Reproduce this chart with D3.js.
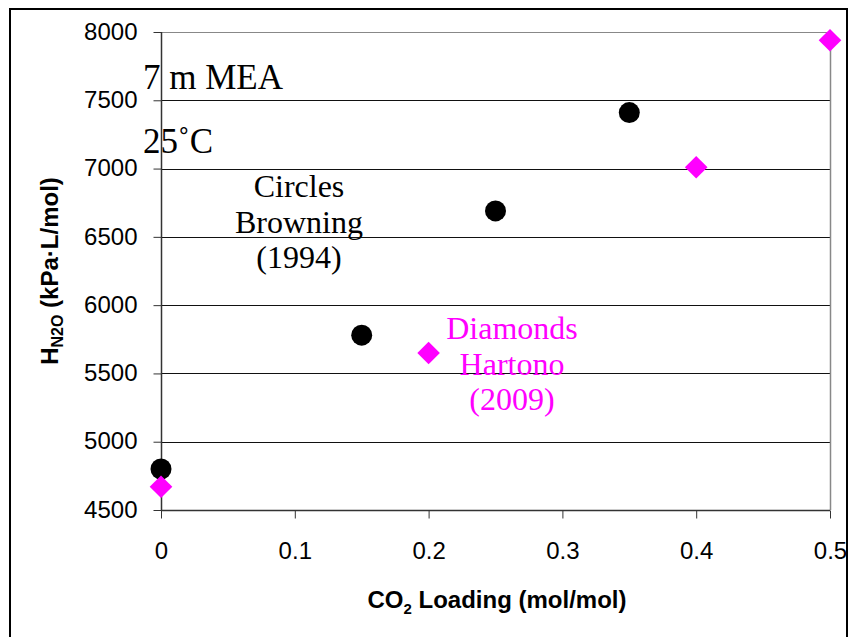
<!DOCTYPE html>
<html>
<head>
<meta charset="utf-8">
<title>N2O solubility in 7 m MEA</title>
<style>
  body { margin: 0; background: #fff; }
  .tick text { font-family: Arial, "Liberation Sans", sans-serif; font-size: 24px; fill: #000; }
  .note { font-family: "Times New Roman", "Liberation Serif", serif; font-size: 32px; }
  .big { font-size: 35px; }
</style>
</head>
<body>
<svg id="chart" width="849" height="637"></svg>
<script src="https://d3js.org/d3.v7.min.js"></script>
<script>
  // Browning (1994) - circles
  const browningLoading = [0, 0.15, 0.25, 0.35];
  const browningH = [4800, 5780, 6690, 7410];
  // Hartono (2009) - diamonds
  const hartonoLoading = [0, 0.2, 0.4, 0.5];
  const hartonoH = [4670, 5650, 7010, 7940];

  const xTicks = [0, 0.1, 0.2, 0.3, 0.4, 0.5];
  const yTicks = [4500, 5000, 5500, 6000, 6500, 7000, 7500, 8000];

  const svg = d3.select("#chart");
  const plot = { left: 161, right: 830, top: 32, bottom: 510 };

  const x = d3.scaleLinear().domain([0, 0.5]).range([plot.left, plot.right]);
  const y = d3.scaleLinear().domain([4500, 8000]).range([plot.bottom, plot.top]);

  // outer frame (bottom edge is off the picture)
  svg.append("path")
    .attr("d", "M10,640 V9 H847 V640")
    .attr("fill", "none")
    .attr("stroke", "#000")
    .attr("stroke-width", 2);

  // gridlines
  svg.append("g")
    .selectAll("line")
    .data(yTicks.slice(1))
    .join("line")
    .attr("x1", plot.left)
    .attr("x2", plot.right)
    .attr("y1", d => Math.round(y(d)) + 0.5)
    .attr("y2", d => Math.round(y(d)) + 0.5)
    .attr("stroke", d => d === 8000 ? "#888" : "#111")
    .attr("stroke-width", 1);

  // right border
  svg.append("line")
    .attr("x1", plot.right + 0.5).attr("x2", plot.right + 0.5)
    .attr("y1", plot.top).attr("y2", plot.bottom)
    .attr("stroke", "#888")
    .attr("stroke-width", 1.5);

  // axes
  const gx = svg.append("g")
    .attr("transform", `translate(0,${plot.bottom + 0.5})`)
    .call(d3.axisBottom(x).tickValues(xTicks).tickSize(8).tickSizeOuter(0)
      .tickFormat(d => String(d)));
  gx.select(".domain").remove();
  gx.selectAll(".tick line").attr("stroke", "#333");
  gx.selectAll(".tick text").attr("y", 31).attr("dy", "0.71em");

  const gy = svg.append("g")
    .attr("transform", `translate(${plot.left + 0.5},0)`)
    .call(d3.axisLeft(y).tickValues(yTicks).tickSize(8).tickSizeOuter(0)
      .tickFormat(d3.format("d")));
  gy.select(".domain").remove();
  gy.selectAll(".tick line").attr("stroke", "#333");
  gy.selectAll(".tick text").attr("x", -24).attr("dy", "0.3em");

  // axis lines
  svg.append("line")
    .attr("x1", plot.left).attr("x2", plot.right)
    .attr("y1", plot.bottom + 0.5).attr("y2", plot.bottom + 0.5)
    .attr("stroke", "#333").attr("stroke-width", 1.5);
  svg.append("line")
    .attr("x1", plot.left + 0.5).attr("x2", plot.left + 0.5)
    .attr("y1", plot.top).attr("y2", plot.bottom)
    .attr("stroke", "#333").attr("stroke-width", 1.5);

  // axis titles
  const xTitle = svg.append("text")
    .attr("x", 497).attr("y", 608)
    .attr("text-anchor", "middle")
    .style("font-family", "Arial, 'Liberation Sans', sans-serif")
    .style("font-size", "24px")
    .style("font-weight", "bold");
  xTitle.append("tspan").text("CO");
  xTitle.append("tspan").attr("font-size", "15px").attr("dy", 6).text("2");
  xTitle.append("tspan").attr("dy", -6).text(" Loading (mol/mol)");

  const yTitle = svg.append("text")
    .attr("transform", "translate(58,271) rotate(-90)")
    .attr("text-anchor", "middle")
    .style("font-family", "Arial, 'Liberation Sans', sans-serif")
    .style("font-size", "24px")
    .style("font-weight", "bold");
  yTitle.append("tspan").text("H");
  yTitle.append("tspan").attr("font-size", "16px").attr("dy", 5).text("N2O");
  yTitle.append("tspan").attr("dy", -5).text(" (kPa\u00b7L/mol)");

  // annotations
  svg.append("text").attr("class", "note big").attr("x", 143).attr("y", 89).text("7 m MEA");
  svg.append("text").attr("class", "note big").attr("x", 143).attr("y", 153).text("25\u02daC");

  svg.append("g").selectAll("text")
    .data(["Circles", "Browning", "(1994)"])
    .join("text")
    .attr("class", "note")
    .attr("x", 299)
    .attr("y", (d, i) => 197 + i * 35.5)
    .attr("text-anchor", "middle")
    .attr("fill", "#000")
    .text(d => d);

  svg.append("g").selectAll("text")
    .data(["Diamonds", "Hartono", "(2009)"])
    .join("text")
    .attr("class", "note")
    .attr("x", 512)
    .attr("y", (d, i) => 339 + i * 35.5)
    .attr("text-anchor", "middle")
    .attr("fill", "#ff00ff")
    .text(d => d);

  // Browning circles
  svg.append("g")
    .selectAll("circle")
    .data(d3.zip(browningLoading, browningH))
    .join("circle")
    .attr("cx", d => x(d[0]))
    .attr("cy", d => y(d[1]))
    .attr("r", 10.5)
    .attr("fill", "#000");

  // Hartono diamonds, drawn on top
  const diamond = d3.symbol().type(d3.symbolSquare).size(2 * 11.3 * 11.3);
  svg.append("g")
    .selectAll("path")
    .data(d3.zip(hartonoLoading, hartonoH))
    .join("path")
    .attr("d", diamond)
    .attr("transform", d => `translate(${x(d[0])},${y(d[1])}) rotate(45)`)
    .attr("fill", "#ff00ff");
</script>
</body>
</html>
